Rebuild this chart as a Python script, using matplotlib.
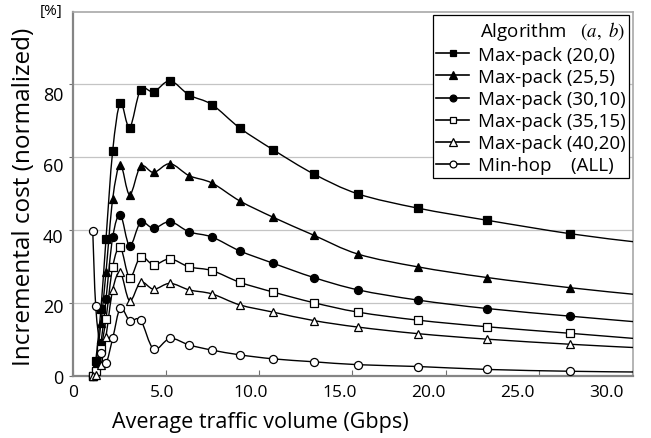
import numpy as np
import matplotlib
matplotlib.use('Agg')
import matplotlib.pyplot as plt
from matplotlib.path import Path
from matplotlib.patches import PathPatch
from matplotlib.lines import Line2D
from matplotlib.ticker import FuncFormatter

plt.rcParams['font.family'] = ['Open Sans', 'DejaVu Sans']
plt.rcParams['mathtext.fontset'] = 'stix'

# ---- data ----
traffic = [1.06, 1.22, 1.50, 1.77, 2.13, 2.54, 3.04, 3.63, 4.33, 5.21, 6.24,
           7.46, 8.95, 10.75, 12.92, 15.31, 18.53, 22.22, 26.69, 30.10]
maxpack_20_0 = [0.1, 4.2, 18.4, 37.5, 61.7, 74.8, 68.1, 78.5, 77.9, 80.9, 77.0,
                74.4, 68.0, 62.0, 55.4, 49.9, 46.0, 42.7, 39.0, 36.8]
maxpack_25_5 = [0.3, 3.0, 14.5, 28.4, 48.5, 57.9, 49.7, 57.5, 55.8, 58.2, 54.9,
                52.9, 48.0, 43.5, 38.6, 33.4, 29.9, 27.0, 24.2, 22.4]
maxpack_30_10 = [0.0, 2.0, 9.0, 21.0, 38.0, 44.2, 35.7, 42.1, 40.5, 42.3, 39.5,
                 38.1, 34.3, 30.9, 27.0, 23.6, 20.8, 18.5, 16.4, 14.9]
maxpack_35_15 = [0.0, 1.5, 7.5, 15.6, 29.9, 35.3, 27.0, 32.7, 30.5, 32.1, 29.9,
                 28.9, 25.7, 23.0, 20.1, 17.5, 15.3, 13.5, 11.7, 10.3]
maxpack_40_20 = [0.0, 0.3, 3.0, 10.8, 23.6, 28.4, 20.6, 25.7, 23.8, 25.4, 23.6,
                 22.5, 19.5, 17.5, 15.2, 13.4, 11.6, 10.1, 8.7, 7.8]
minhop_all = [39.8, 19.1, 6.3, 3.5, 10.3, 18.6, 15.2, 15.3, 7.4, 10.3, 8.5,
              7.1, 5.8, 4.7, 3.9, 3.1, 2.6, 1.8, 1.3, 1.1]

series_labels = ['Max-pack (20,0)', 'Max-pack (25,5)', 'Max-pack (30,10)',
                 'Max-pack (35,15)', 'Max-pack (40,20)', 'Min-hop    (ALL)']
series_values = [maxpack_20_0, maxpack_25_5, maxpack_30_10,
                 maxpack_35_15, maxpack_40_20, minhop_all]
styles = [('s', 'black', 5.2), ('^', 'black', 6.2), ('o', 'black', 5.8),
          ('s', 'white', 5.8), ('^', 'white', 6.2), ('o', 'white', 5.8)]

x_ticks = [0, 5, 10, 15, 20, 25, 30]
y_ticks = [0, 20, 40, 60, 80]


def smooth_path(x, y):
    """Excel-like smoothed line (Catmull-Rom as cubic Bezier)."""
    P = np.column_stack([x, y]).astype(float)
    n = len(P)
    verts = [P[0]]
    codes = [Path.MOVETO]
    for i in range(n - 1):
        p0 = P[max(i - 1, 0)]
        p1 = P[i]
        p2 = P[i + 1]
        p3 = P[min(i + 2, n - 1)]
        c1 = p1 + (p2 - p0) / 6.0
        c2 = p2 - (p3 - p1) / 6.0
        verts += [c1, c2, p2]
        codes += [Path.CURVE4] * 3
    return Path(verts, codes)


fig = plt.figure(figsize=(6.51, 4.39), dpi=100)
ax = fig.add_axes([73 / 651, 1 - 377 / 439, 560 / 651, (377 - 13.3) / 439])

ax.set_xlim(0, 30.06)
ax.set_ylim(0, 99.7)

ax.grid(axis='y', color='#c4c4c4', lw=0.9)
ax.set_axisbelow(True)

handles = []
for vals, lab, (mk, fc, ms) in zip(series_values, series_labels, styles):
    patch = PathPatch(smooth_path(traffic, vals), facecolor='none',
                      edgecolor='black', lw=1.0, zorder=3)
    ax.add_patch(patch)
    ax.plot(traffic[:-1], vals[:-1], ls='none', marker=mk, ms=ms,
            mfc=fc, mec='black', mew=0.9, zorder=4, clip_on=False)
    handles.append(Line2D([], [], color='black', lw=1.2, marker=mk,
                          ms=ms * 0.85, mfc=fc, mec='black', mew=0.9))

# spines
for s in ['left', 'bottom']:
    ax.spines[s].set_color('#858585')
    ax.spines[s].set_linewidth(1.6)
for s in ['top', 'right']:
    ax.spines[s].set_color('#a8a8a8')
    ax.spines[s].set_linewidth(1.2)

# primary ticks (marks only)
ax.set_xticks(x_ticks)
ax.set_yticks(y_ticks)
ax.tick_params(axis='x', direction='in', length=4, color='#707070',
               labelbottom=False)
ax.tick_params(axis='y', direction='out', length=3, color='#707070',
               labelleft=False)

# tick labels (slightly compressed as in the reference)
kx, ky = 0.955, 0.969
secx = ax.secondary_xaxis('bottom', functions=(lambda v: v / kx, lambda v: v * kx))
secx.set_xticks(x_ticks)
secx.xaxis.set_major_formatter(FuncFormatter(lambda v, p: '0' if v == 0 else f'{v:.1f}'))
secx.tick_params(length=0, pad=6, labelsize=12.5)
secx.spines['bottom'].set_visible(False)

secy = ax.secondary_yaxis('left', functions=(lambda v: v / ky, lambda v: v * ky))
secy.set_yticks(y_ticks)
secy.yaxis.set_major_formatter(FuncFormatter(lambda v, p: f'{v:.0f}'))
secy.tick_params(length=0, pad=7, labelsize=13)
secy.spines['left'].set_visible(False)

ax.set_xlabel('Average traffic volume (Gbps)', fontsize=15.5)
ax.xaxis.set_label_coords(0.335, -0.095)
ax.set_ylabel('Incremental cost (normalized)', fontsize=17.5)
ax.yaxis.set_label_coords(-0.066, 0.495)

ax.text(-0.039, 1.004, '[%]', transform=ax.transAxes, ha='center',
        va='center', fontsize=11)

leg = ax.legend(handles, series_labels, loc='upper right',
                bbox_to_anchor=(0.993, 0.9926), borderaxespad=0,
                title=r'Algorithm   $(a,\ b)$', title_fontsize=13.5,
                fontsize=13.5, frameon=True, fancybox=False, framealpha=1,
                edgecolor='black', handlelength=1.75, handletextpad=0.45,
                labelspacing=0.22, borderpad=0.2, alignment='right')
leg.get_frame().set_linewidth(0.9)

fig.savefig('out.png', dpi=100)
